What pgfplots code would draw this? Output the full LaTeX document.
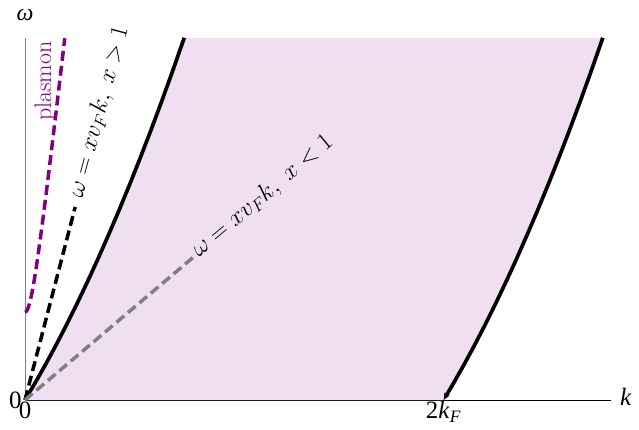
\documentclass[border=0pt]{standalone}
\usepackage{pgfplots}
\pgfplotsset{compat=1.18}
\usepackage{fontspec}
\newfontfamily\tms{Liberation Serif}
\usetikzlibrary{arrows.meta}
\definecolor{fillc}{RGB}{240,223,240}
\definecolor{plas}{RGB}{128,0,128}
\definecolor{gr}{RGB}{128,128,128}
\begin{document}
\begin{tikzpicture}
\begin{axis}[name=ax,
  scale only axis, width=586bp, height=362bp,
  xmin=0, xmax=2.80, ymin=0, ymax=1.05,
  axis lines=left,
  x axis line style={-, black, line width=0.8bp},
  y axis line style={-, gr, line width=0.8bp},
  xtick={0,2}, xticklabels={{\tms 0},{\tms 2\textit{k}\textsubscript{\textit{F}}}},
  ytick={0}, yticklabels={{\tms 0}},
  major tick length=0pt,
  tick label style={font=\fontsize{25}{29}\selectfont},
  xticklabel style={yshift=2bp},
  clip=false,
]
% particle-hole continuum
\addplot[fill=fillc, draw=none] coordinates {
 (0,0) (0.05,0.05125) (0.1,0.105) (0.15,0.16125) (0.2,0.22) (0.25,0.28125)
 (0.3,0.345) (0.35,0.41125) (0.4,0.48) (0.45,0.55125) (0.5,0.625) (0.55,0.70125)
 (0.6,0.78) (0.65,0.86125) (0.7,0.945) (0.761,1.0506)
 (2.761,1.0506) (2.7,0.945) (2.65,0.86125) (2.6,0.78) (2.55,0.70125) (2.5,0.625)
 (2.45,0.55125) (2.4,0.48) (2.35,0.41125) (2.3,0.345) (2.25,0.28125) (2.2,0.22)
 (2.15,0.16125) (2.1,0.105) (2.05,0.05125) (2,0)
} -- cycle;
% upper boundary
\addplot[black, line width=3.7bp] coordinates {
 (0,0) (0.05,0.05125) (0.1,0.105) (0.15,0.16125) (0.2,0.22) (0.25,0.28125)
 (0.3,0.345) (0.35,0.41125) (0.4,0.48) (0.45,0.55125) (0.5,0.625) (0.55,0.70125)
 (0.6,0.78) (0.65,0.86125) (0.7,0.945) (0.761,1.0506)
};
% lower boundary
\addplot[black, line width=3.7bp, -{Stealth[length=7bp,width=6bp]}] coordinates {
 (2.761,1.0506) (2.7,0.945) (2.65,0.86125) (2.6,0.78) (2.55,0.70125) (2.5,0.625)
 (2.45,0.55125) (2.4,0.48) (2.35,0.41125) (2.3,0.345) (2.25,0.28125) (2.2,0.22)
 (2.15,0.16125) (2.1,0.105) (2.05,0.05125) (2,0)
};
% plasmon
\addplot[plas, line width=3.5bp, dash pattern=on 10bp off 5bp, smooth] coordinates {
 (0,0.2550) (0.005,0.2564) (0.01,0.2605) (0.015,0.2673) (0.02,0.2766) (0.03,0.3014)
 (0.04,0.3331) (0.05,0.3698) (0.06,0.4103) (0.08,0.4987) (0.1,0.5933) (0.12,0.6916)
 (0.14,0.7922) (0.16,0.8943) (0.18,0.9974) (0.19,1.0493)
};
% x > 1
\addplot[black, line width=3.5bp, dash pattern=on 10bp off 5bp] coordinates {(0,0) (0.24,0.56)};
% x < 1
\addplot[gr, line width=3.5bp, dash pattern=on 10bp off 5bp] coordinates {(0,0) (0.804,0.414)};
% labels
\node[plas, rotate=90, font=\fontsize{24}{28}\selectfont] at (axis cs:0.096,0.925) {plasmon};
\node[black, rotate=75, font=\fontsize{24}{28}\selectfont] at (axis cs:0.355,0.835) {$\omega=xv_Fk,\ x>1$};
\node[black, rotate=40, font=\fontsize{24}{28}\selectfont] at (axis cs:1.135,0.59) {$\omega=xv_Fk,\ x<1$};
\node[font=\fontsize{24}{28}\selectfont] at (axis cs:0,1.116) {\tms\itshape ω};
\node[font=\fontsize{25}{29}\selectfont] at (axis cs:2.87,0.01) {\tms\itshape k};
\end{axis}
\pgfresetboundingbox
\path ([shift={(-25bp,-30bp)}]ax.south west) rectangle ([shift={(614bp,400bp)}]ax.south west);
\end{tikzpicture}
\end{document}
